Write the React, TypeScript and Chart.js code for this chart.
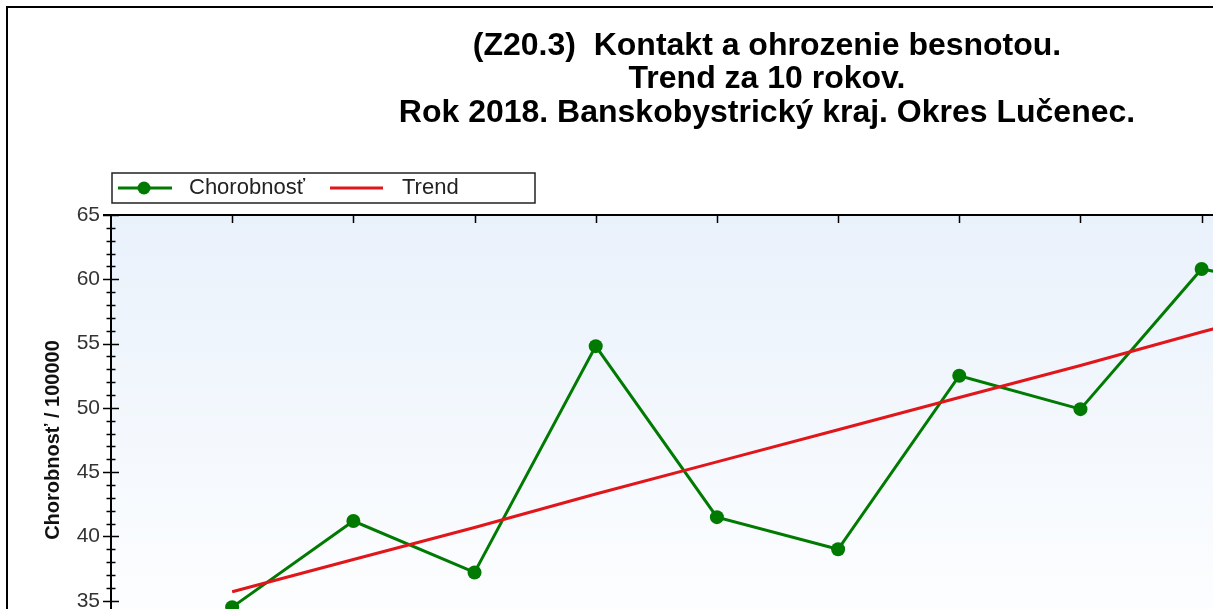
import React, { useEffect, useRef } from 'react';
import { Chart, registerables } from 'chart.js';

Chart.register(...registerables);

const years = [2009, 2010, 2011, 2012, 2013, 2014, 2015, 2016, 2017, 2018];
const incidence = [34.5, 41.2, 37.2, 54.8, 41.5, 39.0, 52.5, 49.9, 60.8, 59.0];
const trend = [35.7, 38.2, 40.7, 43.3, 45.8, 48.3, 50.8, 53.3, 55.9, 58.4];
const yMin = 30;
const yMax = 65;
const yStep = 5;
const xMin = 2008;
const xMax = 2019;
const titleLines = [
  '(Z20.3)  Kontakt a ohrozenie besnotou.',
  'Trend za 10 rokov.',
  'Rok 2018. Banskobystrický kraj. Okres Lučenec.',
];
const legendLabels = ['Chorobnosť', 'Trend'];
const yAxisTitle = 'Chorobnosť / 100000';

const W = 1534;
const H = 740;
const FONT = '"Liberation Sans", Arial, sans-serif';
const GREEN = '#007a00';
const RED = '#e0161a';

const decorPlugin = {
  id: 'decor',
  beforeDraw(chart: any) {
    const { ctx, chartArea: a } = chart;
    ctx.save();
    ctx.fillStyle = '#ffffff';
    ctx.fillRect(0, 0, W, H);
    const g = ctx.createLinearGradient(0, a.top, 0, a.bottom);
    g.addColorStop(0, '#e9f1fb');
    g.addColorStop(1, '#ffffff');
    ctx.fillStyle = g;
    ctx.fillRect(a.left, a.top, a.right - a.left, a.bottom - a.top);
    ctx.strokeStyle = '#000';
    ctx.lineWidth = 2;
    ctx.strokeRect(7, 7, W - 14, H - 14);
    ctx.restore();
  },
  afterDraw(chart: any) {
    const { ctx, chartArea: a } = chart;
    const xs = chart.scales.x;
    const ys = chart.scales.y;
    ctx.save();
    ctx.strokeStyle = '#000';
    ctx.lineWidth = 2;
    ctx.beginPath();
    ctx.moveTo(a.left - 8, a.top);
    ctx.lineTo(a.right, a.top);
    ctx.lineTo(a.right, a.bottom);
    ctx.stroke();
    ctx.lineWidth = 1.5;
    ctx.beginPath();
    for (const yr of years) {
      const px = Math.round(xs.getPixelForValue(yr)) + 0.5;
      ctx.moveTo(px, a.top);
      ctx.lineTo(px, a.top + 8);
      ctx.moveTo(px, a.bottom);
      ctx.lineTo(px, a.bottom + 6);
    }
    for (let v = yMin; v <= yMax; v += 1) {
      const py = Math.round(ys.getPixelForValue(v)) + 0.5;
      const len = v % yStep === 0 ? 8 : 4.5;
      ctx.moveTo(a.left - len, py);
      ctx.lineTo(a.left + len, py);
    }
    ctx.stroke();

    // title
    ctx.fillStyle = '#000';
    ctx.font = `bold 32px ${FONT}`;
    ctx.textAlign = 'center';
    ctx.textBaseline = 'middle';
    titleLines.forEach((t, i) => ctx.fillText(t, W / 2, 46 + i * 33.5));

    // legend
    ctx.lineWidth = 1.5;
    ctx.strokeStyle = '#222';
    ctx.strokeRect(112, 173, 423, 30);
    const ly = 188;
    ctx.lineWidth = 3;
    ctx.strokeStyle = GREEN;
    ctx.beginPath();
    ctx.moveTo(118, ly);
    ctx.lineTo(172, ly);
    ctx.stroke();
    ctx.fillStyle = GREEN;
    ctx.beginPath();
    ctx.arc(144, ly, 6.5, 0, Math.PI * 2);
    ctx.fill();
    ctx.strokeStyle = RED;
    ctx.beginPath();
    ctx.moveTo(330, ly);
    ctx.lineTo(383, ly);
    ctx.stroke();
    ctx.fillStyle = '#222';
    ctx.font = `22px ${FONT}`;
    ctx.textAlign = 'left';
    ctx.fillText(legendLabels[0], 189, ly);
    ctx.fillText(legendLabels[1], 402, ly);

    // y title
    ctx.save();
    ctx.translate(53, (a.top + a.bottom) / 2);
    ctx.rotate(-Math.PI / 2);
    ctx.textAlign = 'center';
    ctx.font = `bold 20px ${FONT}`;
    ctx.fillStyle = '#111';
    ctx.fillText(yAxisTitle, 0, 0);
    ctx.restore();
    ctx.restore();
  },
};

export default function App() {
  const ref = useRef<HTMLCanvasElement | null>(null);
  useEffect(() => {
    if (!ref.current) return;
    const chart = new Chart(ref.current, {
      type: 'line',
      data: {
        datasets: [
          {
            label: legendLabels[1],
            data: years.map((x, i) => ({ x, y: trend[i] })),
            borderColor: RED,
            borderWidth: 3,
            pointRadius: 0,
            fill: false,
          },
          {
            label: legendLabels[0],
            data: years.map((x, i) => ({ x, y: incidence[i] })),
            borderColor: GREEN,
            backgroundColor: GREEN,
            borderWidth: 3,
            pointRadius: 7,
            pointBorderWidth: 0,
            pointBackgroundColor: GREEN,
            fill: false,
          },
        ],
      },
      options: {
        responsive: false,
        devicePixelRatio: 1,
        animation: false,
        layout: { padding: { left: 0, top: 215, right: W - 1444, bottom: 35 } },
        plugins: { legend: { display: false }, title: { display: false }, tooltip: { enabled: false } },
        scales: {
          x: {
            type: 'linear',
            min: xMin,
            max: xMax,
            ticks: {
              stepSize: 1,
              color: '#222',
              font: { family: FONT, size: 20 },
              callback: (v: any) => (v === xMin || v === xMax ? '' : String(v)),
            },
            grid: { display: false },
            border: { display: true, color: '#000', width: 2 },
            afterFit: (s: any) => {
              s.height = 40;
            },
          },
          y: {
            min: yMin,
            max: yMax,
            ticks: { stepSize: yStep, color: '#333', padding: 3, font: { family: FONT, size: 21 } },
            grid: { display: true, drawOnChartArea: false, drawTicks: true, tickLength: 8, color: 'rgba(0,0,0,0)' },
            border: { display: true, color: '#000', width: 2 },
            afterFit: (s: any) => {
              s.width = 111;
            },
          },
        },
      },
      plugins: [decorPlugin],
    } as any);
    return () => chart.destroy();
  }, []);
  return (
    <div style={{ position: 'fixed', left: 0, top: 0, width: 1213, height: 609, overflow: 'hidden', background: '#fff' }}>
      <canvas ref={ref} width={W} height={H} style={{ display: 'block' }} />
    </div>
  );
}
